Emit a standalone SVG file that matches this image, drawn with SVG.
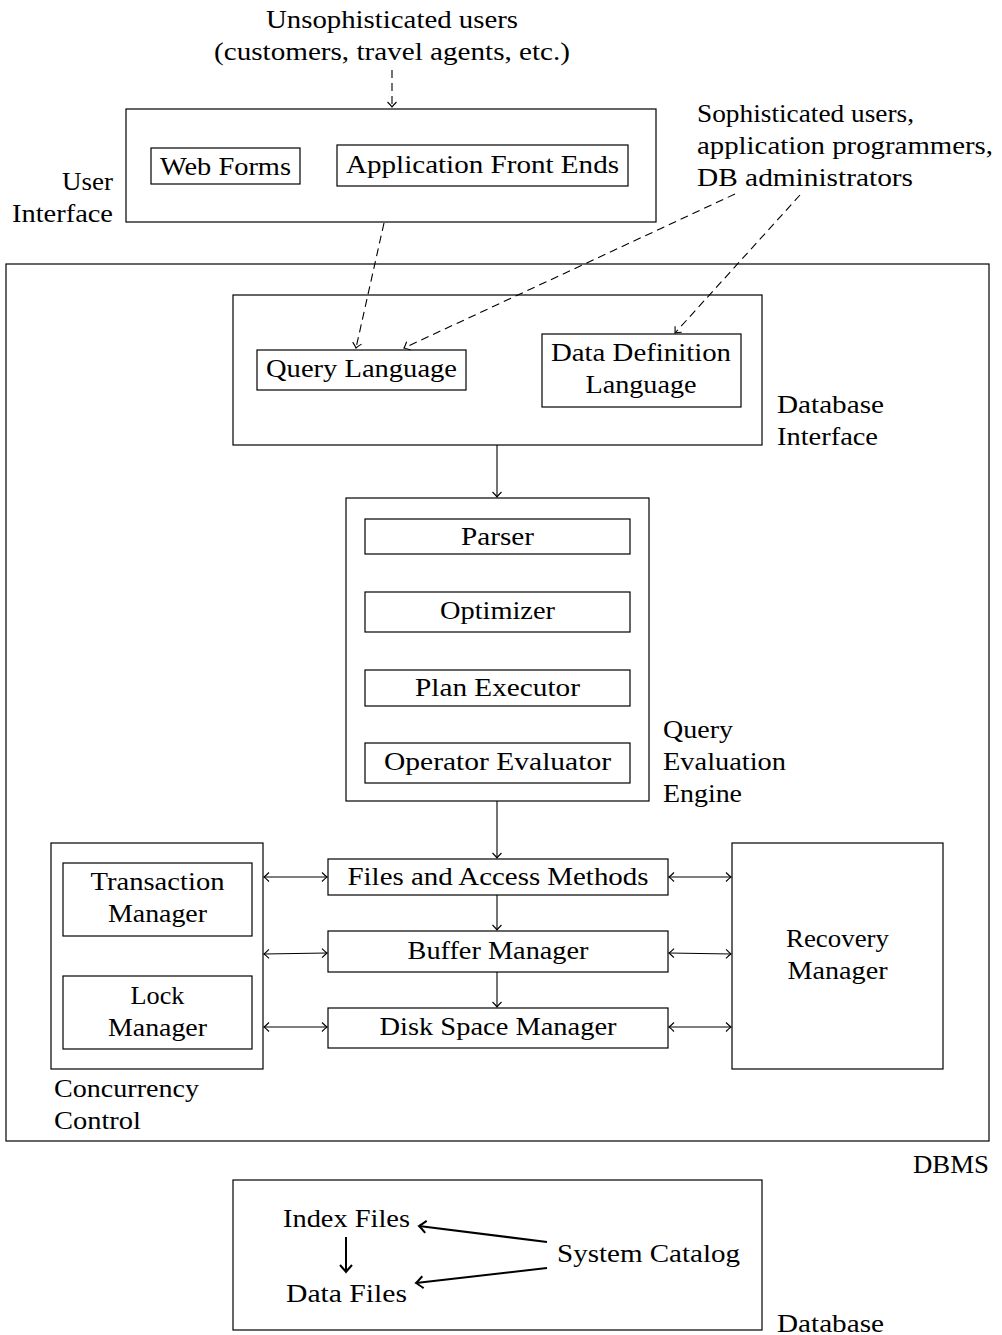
<svg xmlns="http://www.w3.org/2000/svg" width="1002" height="1335" viewBox="0 0 1002 1335">
  <style>
    text { font-family: "Liberation Serif", "Times New Roman", serif; font-size: 25px; fill: #000; }
    .box { fill: none; stroke: #000; stroke-width: 1.2; }
    .c { text-anchor: middle; }
    .r { text-anchor: end; }
    .line { fill: none; stroke: #000; stroke-width: 1.1; }
    .dash { fill: none; stroke: #000; stroke-width: 1.1; stroke-dasharray: 8 5; }
    .thick { fill: none; stroke: #000; stroke-width: 2; }
  </style>
  <defs>
    <marker id="to" markerUnits="userSpaceOnUse" markerWidth="14" markerHeight="14" refX="0" refY="0" viewBox="-8 -7 10 14" orient="auto-start-reverse">
      <path d="M-5,-4.5 Q-1.5,-1 0,0 Q-1.5,1 -5,4.5" fill="none" stroke="#000" stroke-width="1.1"/>
    </marker>
    <marker id="toBig" markerUnits="userSpaceOnUse" markerWidth="16" markerHeight="16" refX="0" refY="0" viewBox="-9 -8 11 16" orient="auto">
      <path d="M-7,-6 Q-2,-1.5 0,0 Q-2,1.5 -7,6" fill="none" stroke="#000" stroke-width="2"/>
    </marker>
  </defs>

  <!-- user groups -->
  <g id="unsophisticated">
    <text class="c" x="392" y="28" textLength="252" lengthAdjust="spacingAndGlyphs">Unsophisticated users</text>
    <text class="c" x="392" y="60" textLength="356" lengthAdjust="spacingAndGlyphs">(customers, travel agents, etc.)</text>
  </g>
  <g id="sophisticated">
    <text x="697" y="122" textLength="217" lengthAdjust="spacingAndGlyphs">Sophisticated users,</text>
    <text x="697" y="154" textLength="296" lengthAdjust="spacingAndGlyphs">application programmers,</text>
    <text x="697" y="186" textLength="216" lengthAdjust="spacingAndGlyphs">DB administrators</text>
  </g>

  <!-- user interface -->
  <g id="user-interface">
    <rect class="box" x="126" y="109" width="530" height="113"/>
    <text class="r" x="113" y="190" textLength="51" lengthAdjust="spacingAndGlyphs">User</text>
    <text class="r" x="113" y="222" textLength="101" lengthAdjust="spacingAndGlyphs">Interface</text>
  </g>
  <g id="web-forms">
    <rect class="box" x="151" y="148" width="149" height="36"/>
    <text class="c" x="225.5" y="175" textLength="131" lengthAdjust="spacingAndGlyphs">Web Forms</text>
  </g>
  <g id="app-front-ends">
    <rect class="box" x="337" y="145" width="291" height="41"/>
    <text class="c" x="482.5" y="173" textLength="273" lengthAdjust="spacingAndGlyphs">Application Front Ends</text>
  </g>

  <!-- DBMS -->
  <g id="dbms">
    <rect class="box" x="6" y="264" width="983" height="877"/>
    <text class="r" x="989" y="1173" textLength="76" lengthAdjust="spacingAndGlyphs">DBMS</text>
  </g>

  <g id="database-interface">
    <rect class="box" x="233" y="295" width="529" height="150"/>
    <text x="777" y="413" textLength="107" lengthAdjust="spacingAndGlyphs">Database</text>
    <text x="777" y="445" textLength="101" lengthAdjust="spacingAndGlyphs">Interface</text>
  </g>
  <g id="query-language">
    <rect class="box" x="257" y="350" width="209" height="40"/>
    <text class="c" x="361.5" y="377" textLength="191" lengthAdjust="spacingAndGlyphs">Query Language</text>
  </g>
  <g id="ddl">
    <rect class="box" x="542" y="334" width="199" height="73"/>
    <text class="c" x="641" y="361" textLength="180" lengthAdjust="spacingAndGlyphs">Data Definition</text>
    <text class="c" x="641" y="393" textLength="111" lengthAdjust="spacingAndGlyphs">Language</text>
  </g>

  <g id="query-evaluation-engine">
    <rect class="box" x="346" y="498" width="303" height="303"/>
    <text x="663" y="738" textLength="70" lengthAdjust="spacingAndGlyphs">Query</text>
    <text x="663" y="770" textLength="123" lengthAdjust="spacingAndGlyphs">Evaluation</text>
    <text x="663" y="802" textLength="79" lengthAdjust="spacingAndGlyphs">Engine</text>
  </g>
  <g id="parser">
    <rect class="box" x="365" y="519" width="265" height="35"/>
    <text class="c" x="497.5" y="545" textLength="73" lengthAdjust="spacingAndGlyphs">Parser</text>
  </g>
  <g id="optimizer">
    <rect class="box" x="365" y="592" width="265" height="40"/>
    <text class="c" x="497.5" y="619" textLength="115" lengthAdjust="spacingAndGlyphs">Optimizer</text>
  </g>
  <g id="plan-executor">
    <rect class="box" x="365" y="670" width="265" height="36"/>
    <text class="c" x="497.5" y="696" textLength="165" lengthAdjust="spacingAndGlyphs">Plan Executor</text>
  </g>
  <g id="operator-evaluator">
    <rect class="box" x="365" y="743" width="265" height="40"/>
    <text class="c" x="497.5" y="770" textLength="227" lengthAdjust="spacingAndGlyphs">Operator Evaluator</text>
  </g>

  <g id="files-access">
    <rect class="box" x="328" y="859" width="340" height="36"/>
    <text class="c" x="498" y="885" textLength="301" lengthAdjust="spacingAndGlyphs">Files and Access Methods</text>
  </g>
  <g id="buffer-manager">
    <rect class="box" x="328" y="931" width="340" height="41"/>
    <text class="c" x="498" y="959" textLength="181" lengthAdjust="spacingAndGlyphs">Buffer Manager</text>
  </g>
  <g id="disk-space-manager">
    <rect class="box" x="328" y="1008" width="340" height="40"/>
    <text class="c" x="498" y="1035" textLength="237" lengthAdjust="spacingAndGlyphs">Disk Space Manager</text>
  </g>

  <g id="concurrency-control">
    <rect class="box" x="51" y="843" width="212" height="226"/>
    <text x="54" y="1097" textLength="145" lengthAdjust="spacingAndGlyphs">Concurrency</text>
    <text x="54" y="1129" textLength="87" lengthAdjust="spacingAndGlyphs">Control</text>
  </g>
  <g id="transaction-manager">
    <rect class="box" x="63" y="863" width="189" height="73"/>
    <text class="c" x="157.5" y="890" textLength="134" lengthAdjust="spacingAndGlyphs">Transaction</text>
    <text class="c" x="157.5" y="922" textLength="99" lengthAdjust="spacingAndGlyphs">Manager</text>
  </g>
  <g id="lock-manager">
    <rect class="box" x="63" y="976" width="189" height="73"/>
    <text class="c" x="157.5" y="1004" textLength="54" lengthAdjust="spacingAndGlyphs">Lock</text>
    <text class="c" x="157.5" y="1036" textLength="99" lengthAdjust="spacingAndGlyphs">Manager</text>
  </g>

  <g id="recovery-manager">
    <rect class="box" x="732" y="843" width="211" height="226"/>
    <text class="c" x="837.5" y="947" textLength="103" lengthAdjust="spacingAndGlyphs">Recovery</text>
    <text class="c" x="837.5" y="979" textLength="100" lengthAdjust="spacingAndGlyphs">Manager</text>
  </g>

  <!-- database storage -->
  <g id="database">
    <rect class="box" x="233" y="1180" width="529" height="150"/>
    <text x="777" y="1332" textLength="107" lengthAdjust="spacingAndGlyphs">Database</text>
  </g>
  <g id="index-files">
    <text class="c" x="346.5" y="1227" textLength="127" lengthAdjust="spacingAndGlyphs">Index Files</text>
  </g>
  <g id="data-files">
    <text class="c" x="346.5" y="1302" textLength="121" lengthAdjust="spacingAndGlyphs">Data Files</text>
  </g>
  <g id="system-catalog">
    <text x="557" y="1262" textLength="183" lengthAdjust="spacingAndGlyphs">System Catalog</text>
  </g>

  <!-- connectors -->
  <g id="connectors">
    <path class="dash" d="M392,70 L392,107" marker-end="url(#to)"/>
    <path class="dash" d="M384,223 L356,348" marker-end="url(#to)"/>
    <path class="dash" d="M735,194 L404,348" marker-end="url(#to)"/>
    <path class="dash" d="M800,195 L675,333" marker-end="url(#to)"/>

    <path class="line" d="M497,445 L497,497" marker-end="url(#to)"/>
    <path class="line" d="M497,801 L497,858" marker-end="url(#to)"/>
    <path class="line" d="M497,895 L497,930" marker-end="url(#to)"/>
    <path class="line" d="M497,972 L497,1007" marker-end="url(#to)"/>

    <path class="line" d="M264,877 L327,877" marker-start="url(#to)" marker-end="url(#to)"/>
    <path class="line" d="M264,954 L327,953" marker-start="url(#to)" marker-end="url(#to)"/>
    <path class="line" d="M264,1027 L327,1027" marker-start="url(#to)" marker-end="url(#to)"/>
    <path class="line" d="M669,877 L731,877" marker-start="url(#to)" marker-end="url(#to)"/>
    <path class="line" d="M669,953 L731,954" marker-start="url(#to)" marker-end="url(#to)"/>
    <path class="line" d="M669,1027 L731,1027" marker-start="url(#to)" marker-end="url(#to)"/>

    <path class="thick" d="M346,1237 L346,1272" marker-end="url(#toBig)"/>
    <path class="thick" d="M547,1242 L419,1226" marker-end="url(#toBig)"/>
    <path class="thick" d="M547,1268 L416,1283" marker-end="url(#toBig)"/>
  </g>
</svg>
